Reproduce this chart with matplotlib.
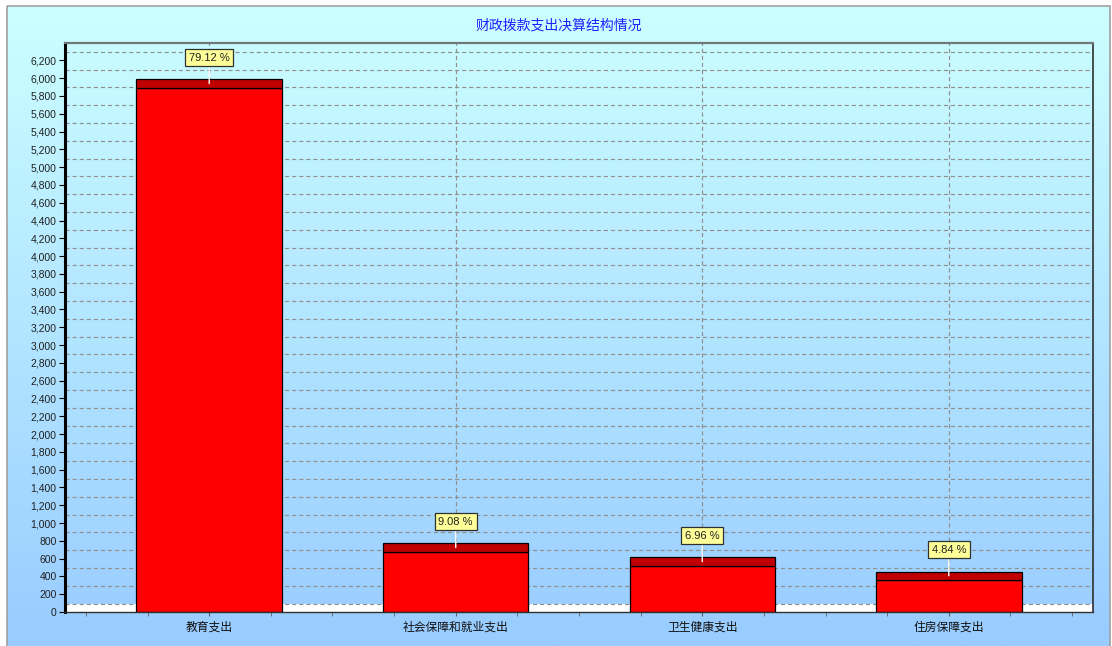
import numpy as np
import matplotlib
matplotlib.use("Agg")
import matplotlib.pyplot as plt
from matplotlib.patches import Rectangle
from matplotlib.ticker import FuncFormatter, FixedLocator

plt.rcParams['font.family'] = ['Liberation Sans', 'Noto Sans CJK SC', 'DejaVu Sans']

title = "财政拨款支出决算结构情况"
categories = ["教育支出", "社会保障和就业支出", "卫生健康支出", "住房保障支出"]
values = [5891, 676, 518, 360]
pct_labels = ["79.12 %", "9.08 %", "6.96 %", "4.84 %"]
y_ticks = list(range(0, 6201, 200))

DEPTH = 95
Y_MAX = 6395

fig = plt.figure(figsize=(11.12, 6.46), dpi=100)
fig.patch.set_facecolor("white")

# background gradient frame
bg = fig.add_axes([0, 0, 1, 1], zorder=0)
bg.set_xlim(0, 1112)
bg.set_ylim(646, 0)
bg.axis("off")
grad = np.linspace(0, 1, 256).reshape(-1, 1)
top_c = np.array([204, 255, 255]) / 255.0
bot_c = np.array([153, 204, 255]) / 255.0
img = top_c[None, None, :] * (1 - grad[:, :, None]) + bot_c[None, None, :] * grad[:, :, None]
bg.imshow(img, extent=(7, 1110, 646, 6), aspect="auto", interpolation="bilinear")
bg.add_patch(Rectangle((7, 6), 1103, 645, fill=False, edgecolor="#a0a0a0", lw=1.2))
bg.text(559, 26, title, ha="center", va="center", color="#2020ff",
        fontsize=10, family=['Noto Sans CJK SC', 'DejaVu Sans'])

ax = fig.add_axes([65 / 1112, 1 - 612 / 646, (1093 - 65) / 1112, (612 - 43) / 646], zorder=1)
ax.set_facecolor("none")
x = np.arange(len(categories))
ax.set_xlim(-0.585, len(categories) - 1 + 0.585)
ax.set_ylim(0, Y_MAX)

# 3D floor (white band)
ax.axhspan(0, DEPTH, color="white", zorder=0.5, lw=0)

# horizontal grid (back wall, shifted up by depth)
for t in y_ticks:
    ax.axhline(t + DEPTH, color="#909090", lw=0.85, ls=(0, (3.5, 2.5)), zorder=0.6)
# vertical grid at category centers
for xi in x:
    ax.axvline(xi, color="#909090", lw=0.85, ls=(0, (3.5, 2.5)), zorder=0.6)

bw = 0.59
ax.bar(x, values, width=bw, color="#ff0000", edgecolor="black", lw=0.9, zorder=2)
ax.bar(x, [DEPTH] * len(values), bottom=values, width=bw, color="#c00000",
       edgecolor="black", lw=0.9, zorder=2)

for xi, v, lab in zip(x, values, pct_labels):
    ax.annotate(lab, xy=(xi, v + DEPTH / 2), xytext=(xi, v + 340),
                ha="center", va="center", fontsize=8, color="#202020",
                bbox=dict(boxstyle="square,pad=0.32", fc="#ffff99", ec="#303030", lw=0.9),
                arrowprops=dict(arrowstyle="-", color="white", lw=1.0,
                                shrinkA=0, shrinkB=0),
                zorder=5)

ax.set_yticks(y_ticks)
ax.yaxis.set_major_formatter(FuncFormatter(lambda v, p: f"{int(v):,}"))
ax.tick_params(axis="y", labelsize=7.5, labelcolor="#202020", length=4,
               direction="out", width=0.8, pad=2)
ax.set_xticks(x)
ax.set_xticklabels(categories, family=['Noto Sans CJK SC', 'DejaVu Sans'], fontsize=8.5)
ax.xaxis.set_minor_locator(FixedLocator(np.arange(-0.5, len(categories) - 0.4, 0.25)))
ax.tick_params(axis="x", which="both", length=3, color="#606060", direction="out",
               labelcolor="#101010", pad=3)

ax.spines["left"].set_linewidth(2.2)
ax.spines["left"].set_color("black")
ax.spines["bottom"].set_linewidth(1.0)
ax.spines["bottom"].set_color("#303030")
ax.spines["top"].set_linewidth(1.6)
ax.spines["top"].set_color("#707878")
ax.spines["right"].set_linewidth(1.2)
ax.spines["right"].set_color("#303030")

fig.savefig("out.png", dpi=100)
